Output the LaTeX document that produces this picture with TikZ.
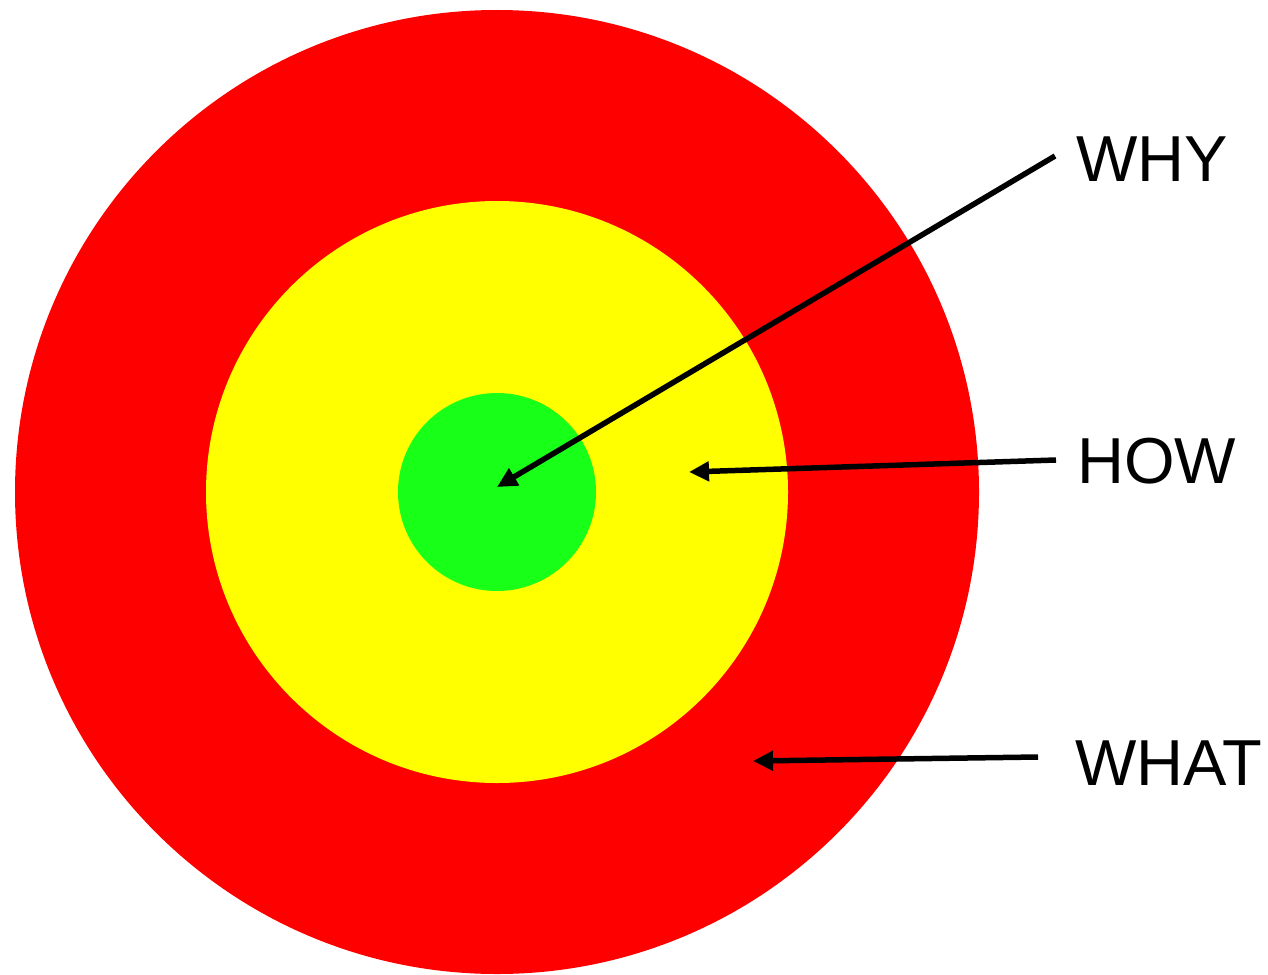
\documentclass[tikz,border=0pt]{standalone}
\usepackage{fontspec}
\setmainfont{Liberation Sans}
\usetikzlibrary{arrows.meta}
\definecolor{ringred}{RGB}{255,0,0}
\definecolor{ringyellow}{RGB}{255,255,0}
\definecolor{ringgreen}{RGB}{24,255,24}
\begin{document}
\begin{tikzpicture}[x=1pt,y=-1pt,
  ring/.style={circle,inner sep=0pt,outer sep=0pt,draw=none},
  pointer/.style={line width=5.5pt,-{Triangle[length=20pt,width=19pt]}},
  label/.style={anchor=base west,inner sep=0pt,font=\fontsize{65}{65}\selectfont}]
\useasboundingbox (0,0) rectangle (1268,974);
\node[ring,fill=ringred,minimum size=964pt] (red) at (497,492) {};
\node[ring,fill=ringyellow,minimum size=582pt] (yellow) at (497,492) {};
\node[ring,fill=ringgreen,minimum size=198pt] (green) at (497,492) {};
\node[label] (why) at (1076,181) {WHY};
\node[label] (how) at (1077,483) {HOW};
\node[label] (what) at (1075,785) {WHAT};
\coordinate (whys) at (1055,156);
\coordinate (whye) at (497,487);
\coordinate (hows) at (1056,460);
\coordinate (howe) at (689,472);
\coordinate (whats) at (1038,757);
\coordinate (whate) at (753,761);
\draw[pointer] (whys) -- (whye);
\draw[pointer] (hows) -- (howe);
\draw[pointer] (whats) -- (whate);
\end{tikzpicture}
\end{document}
